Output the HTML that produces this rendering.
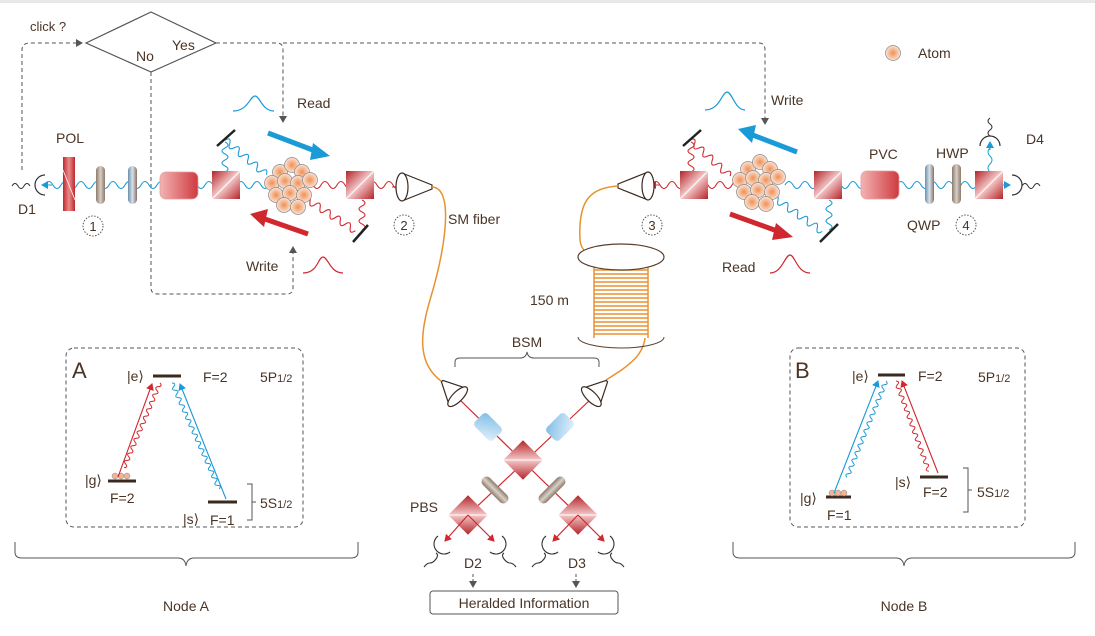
<!DOCTYPE html>
<html><head><meta charset="utf-8"><style>
html,body{margin:0;padding:0;background:#fff;}
svg{display:block;font-family:"Liberation Sans",sans-serif;}
text{fill:#4a3426;}
</style></head><body>
<svg width="1095" height="636" viewBox="0 0 1095 636" xmlns="http://www.w3.org/2000/svg">
<defs>
<linearGradient id="cube" x1="0" y1="0" x2="1" y2="1">
<stop offset="0" stop-color="#b3242a"/><stop offset="0.5" stop-color="#f4c8c8"/><stop offset="1" stop-color="#b3242a"/></linearGradient>
<linearGradient id="pvc" x1="0" y1="0" x2="1" y2="0">
<stop offset="0" stop-color="#f3b3b3"/><stop offset="1" stop-color="#cf3a3f"/></linearGradient>
<linearGradient id="pol" x1="0" y1="0" x2="1" y2="0">
<stop offset="0" stop-color="#c0272d"/><stop offset="0.5" stop-color="#e98b8b"/><stop offset="1" stop-color="#c0272d"/></linearGradient>
<linearGradient id="brn" x1="0" y1="0" x2="1" y2="0">
<stop offset="0" stop-color="#8c7a6c"/><stop offset="0.5" stop-color="#d9cfc6"/><stop offset="1" stop-color="#8c7a6c"/></linearGradient>
<linearGradient id="blu" x1="0" y1="0" x2="1" y2="0">
<stop offset="0" stop-color="#6e8ea8"/><stop offset="0.5" stop-color="#d6e3ee"/><stop offset="1" stop-color="#8d6f60"/></linearGradient>
<linearGradient id="bl2" x1="0" y1="0" x2="1" y2="1">
<stop offset="0" stop-color="#7fbde6"/><stop offset="1" stop-color="#e3f1fb"/></linearGradient>
<radialGradient id="atom" cx="0.5" cy="0.5" r="0.5">
<stop offset="0" stop-color="#f08f55"/><stop offset="1" stop-color="#fbe3d4"/></radialGradient>
<marker id="ah" markerWidth="8" markerHeight="8" refX="6" refY="4" orient="auto" markerUnits="userSpaceOnUse"><path d="M0,0 L7,4 L0,8 z" fill="#555"/></marker>
<marker id="ar" markerWidth="8" markerHeight="8" refX="6" refY="4" orient="auto" markerUnits="userSpaceOnUse"><path d="M0,0 L7,4 L0,8 z" fill="#d0282e"/></marker>
<marker id="ab" markerWidth="8" markerHeight="8" refX="6" refY="4" orient="auto" markerUnits="userSpaceOnUse"><path d="M0,0 L7,4 L0,8 z" fill="#1a9ad6"/></marker>
<g id="cubeS"><rect x="0" y="0" width="28" height="28" fill="url(#cube)"/><line x1="0" y1="28" x2="28" y2="0" stroke="#fff" stroke-width="1"/></g>
<g id="at"><circle r="7.5" fill="url(#atom)" stroke="#888" stroke-width="0.7"/></g>
<g id="cluster">
<use href="#at" x="-10" y="-13"/><use href="#at" x="2" y="-20"/><use href="#at" x="12" y="-13"/>
<use href="#at" x="-18" y="-2"/><use href="#at" x="-5" y="-4"/><use href="#at" x="8" y="-2"/><use href="#at" x="20" y="-5"/>
<use href="#at" x="-14" y="10"/><use href="#at" x="0" y="8"/><use href="#at" x="14" y="10"/>
<use href="#at" x="-6" y="20"/><use href="#at" x="8" y="22"/>
</g>
</defs>
<rect x="0" y="0" width="1095" height="3" fill="#e8e8e8"/>

<polygon points="86,43 151,12 216,43 151,72" fill="#fff" stroke="#555" stroke-width="1.2"/>
<text x="30" y="31" font-size="13">click ?</text>
<text x="172" y="50" font-size="14">Yes</text>
<text x="136" y="61" font-size="14">No</text>
<g fill="none" stroke="#555" stroke-width="1" stroke-dasharray="4,3">
<path d="M22,170 V50 Q22,43 30,43 H82" marker-end="url(#ah)"/>
<path d="M216,43 H277 Q283,43 283,50 V122" marker-end="url(#ah)"/>
<path d="M283,43 H759 Q765,43 765,50 V124" marker-end="url(#ah)"/>
<path d="M151,72 V288 Q151,294 158,294 H287 Q293,294 293,288 V247" marker-end="url(#ah)"/>
</g>

<path d="M45,185 q4,-7 8,0 t8,0 t8,0 t8,0 t8,0 t8,0 t8,0 t8,0 t8,0 t8,0 t8,0 t8,0 t8,0 t8,0 t8,0 t8,0 t8,0 t8,0 t8,0 t8,0 t8,0 t8,0 t8,0 t8,0 t8,0 t8,0 t8,0 t8,0" fill="none" stroke="#1a9ad6" stroke-width="1.1"/>
<path d="M305,185 q4,-7 8,0 t8,0 t8,0 t8,0 t8,0 t8,0 t8,0 t8,0 t8,0 t8,0 t8,0 t8,0" fill="none" stroke="#d0282e" stroke-width="1.1"/>
<path d="M392,187 L402,187" stroke="#d0282e" marker-end="url(#ar)"/>
<path d="M52,185 L42,185" stroke="#1a9ad6" marker-end="url(#ab)"/>
<g transform="translate(225,140) rotate(40)"><path d="M0,0 q3,-7 6,0 t6,0 t6,0 t6,0 t6,0 t6,0 t6,0 t6,0 t6,0" fill="none" stroke="#1a9ad6" stroke-width="1.1"/></g>
<g transform="translate(225,142) rotate(90)"><path d="M0,0 q3,-6 6,0 t6,0 t6,0 t6,0 t6,0" fill="none" stroke="#1a9ad6" stroke-width="1.1"/></g>
<g transform="translate(305,198) rotate(33)"><path d="M0,0 q3,-7 6,0 t6,0 t6,0 t6,0 t6,0 t6,0 t6,0 t6,0 t6,0 t6,0" fill="none" stroke="#d0282e" stroke-width="1.1"/></g>
<g transform="translate(362,200) rotate(90)"><path d="M0,0 q3,-6 6,0 t6,0 t6,0 t6,0 t6,0" fill="none" stroke="#d0282e" stroke-width="1.1"/></g>
<line x1="217" y1="146" x2="235" y2="130" stroke="#222" stroke-width="2.5"/>
<line x1="353" y1="242" x2="368" y2="225" stroke="#222" stroke-width="2.5"/>
<path d="M45,175 A10,10 0 0 0 45,195" fill="none" stroke="#333" stroke-width="1.2"/>
<path d="M12,186 q3,-5 6,0 t6,0 t6,0" fill="none" stroke="#333"/>
<text x="18" y="214" font-size="14">D1</text>
<rect x="63" y="157" width="12" height="54" fill="url(#pol)"/>
<line x1="63" y1="170" x2="75" y2="200" stroke="#fff" stroke-width="0.8"/>
<text x="56" y="143" font-size="14">POL</text>
<rect x="96" y="166" width="9" height="38" rx="4.5" fill="url(#brn)"/>
<rect x="128" y="166" width="9" height="38" rx="4.5" fill="url(#blu)"/>
<rect x="160" y="172" width="38" height="27" rx="6" fill="url(#pvc)" stroke="#e0a0a0" stroke-width="0.8"/>
<use href="#cubeS" x="212" y="171"/>
<use href="#cubeS" x="346" y="171"/>
<circle cx="93" cy="226" r="10" fill="none" stroke="#555" stroke-dasharray="1.5,1.5"/><text x="93" y="231" font-size="13" text-anchor="middle">1</text>
<circle cx="404" cy="225" r="10" fill="none" stroke="#555" stroke-dasharray="1.5,1.5"/><text x="404" y="230" font-size="13" text-anchor="middle">2</text>
<path d="M402,173 L432,185 L432,189 L402,201" fill="none" stroke="#3a2a20" stroke-width="1.2"/>
<ellipse cx="402" cy="187" rx="6" ry="14" fill="#fff" stroke="#3a2a20" stroke-width="1.2"/>
<text x="448" y="224" font-size="14">SM fiber</text>
<use href="#cluster" x="290" y="185"/>
<line x1="268" y1="133" x2="318" y2="152" stroke="#1a9ad6" stroke-width="5"/>
<polygon points="313,143 330,156 310,160" fill="#1a9ad6"/>
<line x1="308" y1="234" x2="262" y2="218" stroke="#d0282e" stroke-width="5"/>
<polygon points="268,209 250,214 264,227" fill="#d0282e"/>
<path d="M233,111 C248,111 250,96 255,96 C260,96 262,111 274,111" fill="none" stroke="#1a9ad6" stroke-width="1.2"/>
<text x="297" y="108" font-size="14">Read</text>
<path d="M303,273 C318,273 318,257 323,257 C328,257 330,273 343,273" fill="none" stroke="#d0282e" stroke-width="1.2"/>
<text x="246" y="271" font-size="14">Write</text>

<path d="M652,185 q4,-7 8,0 t8,0 t8,0 t8,0 t8,0 t8,0 t8,0 t8,0 t8,0 t8,0 t8,0" fill="none" stroke="#d0282e" stroke-width="1.1"/>
<path d="M785,185 q4,-7 8,0 t8,0 t8,0 t8,0 t8,0 t8,0 t8,0 t8,0 t8,0 t8,0 t8,0 t8,0 t8,0 t8,0 t8,0 t8,0 t8,0 t8,0 t8,0 t8,0 t8,0 t8,0 t8,0 t8,0 t8,0" fill="none" stroke="#1a9ad6" stroke-width="1.1"/>
<path d="M660,185 L650,185" stroke="#d0282e" marker-end="url(#ar)"/>
<path d="M998,185 L1010,185" stroke="#1a9ad6" marker-end="url(#ab)"/>
<path d="M990,172 q-4,-4 0,-8 t0,-8 t0,-8" fill="none" stroke="#1a9ad6"/>
<path d="M990,150 L990,142" stroke="#1a9ad6" marker-end="url(#ab)"/>
<g transform="translate(690,140) rotate(42)"><path d="M0,0 q3,-7 6,0 t6,0 t6,0 t6,0 t6,0 t6,0 t6,0 t6,0 t6,0" fill="none" stroke="#d0282e" stroke-width="1.1"/></g>
<g transform="translate(691,142) rotate(90)"><path d="M0,0 q3,-6 6,0 t6,0 t6,0 t6,0 t6,0" fill="none" stroke="#d0282e" stroke-width="1.1"/></g>
<g transform="translate(773,197) rotate(35)"><path d="M0,0 q3,-7 6,0 t6,0 t6,0 t6,0 t6,0 t6,0 t6,0 t6,0 t6,0 t6,0" fill="none" stroke="#1a9ad6" stroke-width="1.1"/></g>
<g transform="translate(829,200) rotate(90)"><path d="M0,0 q3,-6 6,0 t6,0 t6,0 t6,0 t6,0" fill="none" stroke="#1a9ad6" stroke-width="1.1"/></g>
<line x1="683" y1="146" x2="701" y2="130" stroke="#222" stroke-width="2.5"/>
<line x1="820" y1="242" x2="838" y2="224" stroke="#222" stroke-width="2.5"/>
<use href="#cubeS" x="680" y="171"/>
<use href="#cubeS" x="814" y="171"/>
<rect x="861" y="171" width="38" height="28" rx="6" fill="url(#pvc)" stroke="#e0a0a0" stroke-width="0.8"/>
<rect x="925" y="164" width="9" height="40" rx="4.5" fill="url(#blu)"/>
<rect x="952" y="164" width="9" height="40" rx="4.5" fill="url(#brn)"/>
<use href="#cubeS" x="975" y="171"/>
<path d="M1012,175 A10,10 0 0 1 1012,195" fill="none" stroke="#333" stroke-width="1.2"/>
<path d="M1022,186 q3,-5 6,0 t6,0 t6,0" fill="none" stroke="#333"/>
<path d="M980,146 A10,10 0 0 1 1000,146" fill="none" stroke="#333" stroke-width="1.2"/>
<path d="M990,136 q-4,-3 0,-6 t0,-6 t0,-6" fill="none" stroke="#333"/>
<text x="1026" y="144" font-size="14">D4</text>
<text x="869" y="159" font-size="14">PVC</text>
<text x="936" y="158" font-size="14">HWP</text>
<text x="907" y="230" font-size="14">QWP</text>
<circle cx="966" cy="225" r="10" fill="none" stroke="#555" stroke-dasharray="1.5,1.5"/><text x="966" y="230" font-size="13" text-anchor="middle">4</text>
<circle cx="652" cy="225" r="10" fill="none" stroke="#555" stroke-dasharray="1.5,1.5"/><text x="652" y="230" font-size="13" text-anchor="middle">3</text>
<path d="M648,172 L618,184 L618,188 L648,200" fill="none" stroke="#3a2a20" stroke-width="1.2"/>
<ellipse cx="648" cy="186" rx="6" ry="14" fill="#fff" stroke="#3a2a20" stroke-width="1.2"/>
<use href="#cluster" x="758" y="182"/>
<line x1="797" y1="152" x2="750" y2="134" stroke="#1a9ad6" stroke-width="5"/>
<polygon points="756,125 738,129 752,143" fill="#1a9ad6"/>
<line x1="730" y1="214" x2="780" y2="232" stroke="#d0282e" stroke-width="5"/>
<polygon points="776,223 793,237 772,240" fill="#d0282e"/>
<path d="M705,110 C720,110 722,92 727,92 C732,92 735,110 745,110" fill="none" stroke="#1a9ad6" stroke-width="1.2"/>
<text x="771" y="105" font-size="14">Write</text>
<path d="M770,273 C782,273 785,255 790,255 C795,255 797,273 810,273" fill="none" stroke="#d0282e" stroke-width="1.2"/>
<text x="722" y="272" font-size="14">Read</text>
<use href="#at" x="893" y="53"/>
<text x="918" y="58" font-size="14">Atom</text>

<path d="M432,187 C455,188 445,250 430,300 C418,340 420,365 441,381" fill="none" stroke="#e8922e" stroke-width="1.5"/>
<path d="M618,186 C590,188 578,200 580,240 C581,252 590,256 600,258" fill="none" stroke="#e8922e" stroke-width="1.5"/>
<path d="M645,330 C648,355 625,368 606,380" fill="none" stroke="#e8922e" stroke-width="1.5"/>
<rect x="593" y="262" width="56" height="76" fill="#fff"/>
<g stroke="#e8922e" stroke-width="1.6">
<line x1="594" y1="266" x2="648" y2="266"/><line x1="594" y1="270" x2="648" y2="270"/><line x1="594" y1="274" x2="648" y2="274"/><line x1="594" y1="278" x2="648" y2="278"/><line x1="594" y1="282" x2="648" y2="282"/><line x1="594" y1="286" x2="648" y2="286"/><line x1="594" y1="290" x2="648" y2="290"/><line x1="594" y1="294" x2="648" y2="294"/><line x1="594" y1="298" x2="648" y2="298"/><line x1="594" y1="302" x2="648" y2="302"/><line x1="594" y1="306" x2="648" y2="306"/><line x1="594" y1="310" x2="648" y2="310"/><line x1="594" y1="314" x2="648" y2="314"/><line x1="594" y1="318" x2="648" y2="318"/><line x1="594" y1="322" x2="648" y2="322"/><line x1="594" y1="326" x2="648" y2="326"/><line x1="594" y1="330" x2="648" y2="330"/><line x1="594" y1="334" x2="648" y2="334"/>
</g>
<line x1="594" y1="262" x2="594" y2="338" stroke="#e8922e" stroke-width="1.5"/>
<line x1="648" y1="262" x2="648" y2="338" stroke="#e8922e" stroke-width="1.5"/>
<ellipse cx="621" cy="257" rx="43" ry="13" fill="#fff" stroke="#5a4030" stroke-width="1.2"/>
<path d="M578,337 A43,11 0 0 0 664,337" fill="none" stroke="#5a4030" stroke-width="1"/>
<text x="530" y="305" font-size="14">150 m</text>

<text x="527" y="347" font-size="14" text-anchor="middle">BSM</text>
<path d="M455,367 V362 Q455,358 460,358 H520 Q526,358 527,352 Q528,358 534,358 H594 Q599,358 599,362 V367" fill="none" stroke="#555" stroke-width="1"/>
<g stroke="#d0282e" stroke-width="1.2" fill="none">
<line x1="460" y1="400" x2="578" y2="515"/>
<line x1="590" y1="400" x2="468" y2="515"/>
</g>
<g transform="translate(452,391) rotate(-45)"><path d="M-12,8 L-1,-14 L1,-14 L12,8" fill="none" stroke="#3a2a20" stroke-width="1.2"/><ellipse cx="0" cy="8" rx="13" ry="5" fill="#fff" stroke="#3a2a20" stroke-width="1.2"/></g>
<g transform="translate(597,391) rotate(45)"><path d="M-12,8 L-1,-14 L1,-14 L12,8" fill="none" stroke="#3a2a20" stroke-width="1.2"/><ellipse cx="0" cy="8" rx="13" ry="5" fill="#fff" stroke="#3a2a20" stroke-width="1.2"/></g>
<g transform="translate(488,427) rotate(45)"><rect x="-13" y="-9" width="26" height="18" rx="4" fill="url(#bl2)"/></g>
<g transform="translate(560,427) rotate(-45)"><rect x="-13" y="-9" width="26" height="18" rx="4" fill="url(#bl2)"/></g>
<g transform="translate(523,460) rotate(45)"><use href="#cubeS" x="-14" y="-14"/></g>
<g transform="translate(495,490) rotate(-45)"><rect x="-5" y="-17" width="10" height="34" rx="5" fill="url(#brn)"/></g>
<g transform="translate(552,490) rotate(45)"><rect x="-5" y="-17" width="10" height="34" rx="5" fill="url(#brn)"/></g>
<g transform="translate(468,515) rotate(45)"><use href="#cubeS" x="-14" y="-14"/></g>
<g transform="translate(578,515) rotate(45)"><use href="#cubeS" x="-14" y="-14"/></g>
<g stroke="#d0282e" stroke-width="1.2">
<line x1="468" y1="515" x2="445" y2="541" marker-end="url(#ar)"/>
<line x1="468" y1="515" x2="494" y2="541" marker-end="url(#ar)"/>
<line x1="578" y1="515" x2="553" y2="541" marker-end="url(#ar)"/>
<line x1="578" y1="515" x2="604" y2="541" marker-end="url(#ar)"/>
</g>
<g fill="none" stroke="#333" stroke-width="1.1">
<path d="M438,536 A9,9 0 0 0 450,552"/><path d="M436,553 q3,2 0,6 t-6,4 t-6,4"/>
<path d="M502,536 A9,9 0 0 1 490,552"/><path d="M504,553 q-3,2 0,6 t6,4 t6,4"/>
<path d="M546,536 A9,9 0 0 0 558,552"/><path d="M544,553 q3,2 0,6 t-6,4 t-6,4"/>
<path d="M610,536 A9,9 0 0 1 598,552"/><path d="M612,553 q-3,2 0,6 t6,4 t6,4"/>
</g>
<text x="410" y="512" font-size="14">PBS</text>
<text x="464" y="568" font-size="14">D2</text>
<text x="568" y="568" font-size="14">D3</text>
<g stroke="#555" stroke-dasharray="3,2"><line x1="473" y1="574" x2="473" y2="587" marker-end="url(#ah)"/><line x1="576" y1="574" x2="576" y2="587" marker-end="url(#ah)"/></g>
<rect x="430" y="591" width="188" height="23" rx="3" fill="#fff" stroke="#555"/>
<text x="524" y="608" font-size="14" text-anchor="middle">Heralded Information</text>

<rect x="66" y="348" width="237" height="179" rx="8" fill="none" stroke="#555" stroke-dasharray="4,3"/>
<text x="72" y="378" font-size="22">A</text>
<text x="127" y="381" font-size="14">|e⟩</text>
<line x1="153" y1="376" x2="181" y2="376" stroke="#3a2a20" stroke-width="3"/>
<text x="203" y="382" font-size="14">F=2</text>
<text x="260" y="382" font-size="14">5P<tspan font-size="11">1/2</tspan></text>
<text x="85" y="485" font-size="14">|g⟩</text>
<line x1="108" y1="481" x2="136" y2="481" stroke="#3a2a20" stroke-width="3"/>
<circle cx="115" cy="476" r="3" fill="#f2b494" stroke="#888" stroke-width="0.5"/><circle cx="121" cy="476" r="3" fill="#f2b494" stroke="#888" stroke-width="0.5"/><circle cx="127" cy="476" r="3" fill="#f2b494" stroke="#888" stroke-width="0.5"/>
<text x="110" y="503" font-size="14">F=2</text>
<text x="183" y="524" font-size="14">|s⟩</text>
<line x1="208" y1="502" x2="237" y2="502" stroke="#3a2a20" stroke-width="3"/>
<text x="210" y="525" font-size="14">F=1</text>
<path d="M247,484 H252 V520 H247 M252,502 H256" fill="none" stroke="#555"/>
<text x="260" y="508" font-size="14">5S<tspan font-size="11">1/2</tspan></text>
<line x1="118" y1="477" x2="152" y2="384" stroke="#d0282e" stroke-width="1.1" marker-end="url(#ar)"/>
<g transform="translate(160,383) rotate(113)"><path d="M0,0 q2,-4 4,0 t4,0 t4,0 t4,0 t4,0 t4,0 t4,0 t4,0 t4,0 t4,0 t4,0 t4,0 t4,0 t4,0 t4,0 t4,0 t4,0 t4,0 t4,0 t4,0 t4,0 t4,0 t4,0" fill="none" stroke="#d0282e" stroke-width="1"/></g>
<line x1="226" y1="499" x2="180" y2="384" stroke="#1a9ad6" stroke-width="1.1" marker-end="url(#ab)"/>
<g transform="translate(172,383) rotate(66)"><path d="M0,0 q2,-4 4,0 t4,0 t4,0 t4,0 t4,0 t4,0 t4,0 t4,0 t4,0 t4,0 t4,0 t4,0 t4,0 t4,0 t4,0 t4,0 t4,0 t4,0 t4,0 t4,0 t4,0 t4,0 t4,0 t4,0 t4,0 t4,0 t4,0 t4,0 t4,0" fill="none" stroke="#1a9ad6" stroke-width="1"/></g>
<path d="M15,542 V552 Q15,558 22,558 H178 Q185,558 186,566 Q187,558 194,558 H351 Q358,558 358,552 V542" fill="none" stroke="#555" stroke-width="1"/>
<text x="186" y="611" font-size="14" text-anchor="middle">Node A</text>

<rect x="790" y="348" width="235" height="179" rx="8" fill="none" stroke="#555" stroke-dasharray="4,3"/>
<text x="795" y="378" font-size="22">B</text>
<text x="852" y="381" font-size="14">|e⟩</text>
<line x1="878" y1="375" x2="905" y2="375" stroke="#3a2a20" stroke-width="3"/>
<text x="918" y="381" font-size="14">F=2</text>
<text x="978" y="382" font-size="14">5P<tspan font-size="11">1/2</tspan></text>
<text x="800" y="503" font-size="14">|g⟩</text>
<line x1="826" y1="497" x2="851" y2="497" stroke="#3a2a20" stroke-width="3"/>
<circle cx="832" cy="493" r="3" fill="#f2b494" stroke="#888" stroke-width="0.5"/><circle cx="838" cy="493" r="3" fill="#f2b494" stroke="#888" stroke-width="0.5"/><circle cx="844" cy="493" r="3" fill="#f2b494" stroke="#888" stroke-width="0.5"/>
<text x="827" y="520" font-size="14">F=1</text>
<text x="895" y="487" font-size="14">|s⟩</text>
<line x1="920" y1="477" x2="948" y2="477" stroke="#3a2a20" stroke-width="3"/>
<text x="923" y="497" font-size="14">F=2</text>
<path d="M963,468 H968 V512 H963 M968,490 H972" fill="none" stroke="#555"/>
<text x="977" y="497" font-size="14">5S<tspan font-size="11">1/2</tspan></text>
<line x1="834" y1="493" x2="878" y2="381" stroke="#1a9ad6" stroke-width="1.1" marker-end="url(#ab)"/>
<g transform="translate(886,381) rotate(112)"><path d="M0,0 q2,-4 4,0 t4,0 t4,0 t4,0 t4,0 t4,0 t4,0 t4,0 t4,0 t4,0 t4,0 t4,0 t4,0 t4,0 t4,0 t4,0 t4,0 t4,0 t4,0 t4,0 t4,0 t4,0 t4,0 t4,0 t4,0 t4,0" fill="none" stroke="#1a9ad6" stroke-width="1"/></g>
<line x1="938" y1="473" x2="902" y2="381" stroke="#d0282e" stroke-width="1.1" marker-end="url(#ar)"/>
<g transform="translate(896,381) rotate(70)"><path d="M0,0 q2,-4 4,0 t4,0 t4,0 t4,0 t4,0 t4,0 t4,0 t4,0 t4,0 t4,0 t4,0 t4,0 t4,0 t4,0 t4,0 t4,0 t4,0 t4,0 t4,0 t4,0 t4,0 t4,0 t4,0 t4,0" fill="none" stroke="#d0282e" stroke-width="1"/></g>
<path d="M733,542 V552 Q733,558 740,558 H896 Q903,558 904,566 Q905,558 912,558 H1068 Q1075,558 1075,552 V542" fill="none" stroke="#555" stroke-width="1"/>
<text x="904" y="611" font-size="14" text-anchor="middle">Node B</text>
</svg>
</body></html>
